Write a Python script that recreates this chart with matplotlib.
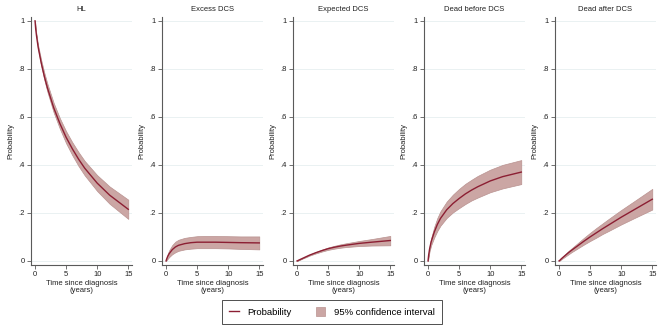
import matplotlib
matplotlib.use("Agg")
import matplotlib.pyplot as plt
from matplotlib.lines import Line2D
from matplotlib.patches import Patch
import numpy as np

plt.rcParams['font.family'] = ['Liberation Sans', 'DejaVu Sans']

# years since diagnosis
t = [0, 0.1, 0.25, 0.5, 1, 1.5, 2, 3, 4, 5, 6, 7, 8, 10, 12, 15]

titles = ["HL", "Excess DCS", "Expected DCS", "Dead before DCS", "Dead after DCS"]

hl_est = [1.0, 0.967, 0.935, 0.89, 0.824, 0.768, 0.72, 0.638, 0.572, 0.515, 0.467, 0.424, 0.386, 0.324, 0.274, 0.215]
hl_lo = [1.0, 0.965, 0.93, 0.882, 0.812, 0.753, 0.703, 0.618, 0.55, 0.49, 0.44, 0.395, 0.356, 0.291, 0.238, 0.175]
hl_hi = [1.0, 0.969, 0.94, 0.898, 0.836, 0.783, 0.737, 0.658, 0.594, 0.54, 0.494, 0.453, 0.416, 0.357, 0.31, 0.255]

exc_est = [0, 0.008, 0.018, 0.03, 0.047, 0.058, 0.065, 0.072, 0.076, 0.078, 0.078, 0.078, 0.078, 0.077, 0.076, 0.075]
exc_lo = [0, 0.003, 0.008, 0.016, 0.028, 0.036, 0.042, 0.048, 0.051, 0.053, 0.053, 0.053, 0.053, 0.052, 0.050, 0.048]
exc_hi = [0, 0.013, 0.028, 0.044, 0.066, 0.080, 0.088, 0.096, 0.100, 0.103, 0.104, 0.104, 0.104, 0.103, 0.102, 0.102]

exp_est = [0, 0.001, 0.003, 0.006, 0.012, 0.018, 0.024, 0.034, 0.043, 0.051, 0.057, 0.062, 0.066, 0.073, 0.078, 0.085]
exp_lo = [0, 0.001, 0.003, 0.005, 0.011, 0.016, 0.022, 0.031, 0.039, 0.046, 0.051, 0.055, 0.058, 0.062, 0.064, 0.065]
exp_hi = [0, 0.001, 0.003, 0.007, 0.013, 0.020, 0.026, 0.037, 0.047, 0.056, 0.063, 0.069, 0.074, 0.083, 0.091, 0.104]

db_est = [0, 0.025, 0.05, 0.08, 0.12, 0.152, 0.177, 0.213, 0.239, 0.26, 0.279, 0.295, 0.309, 0.333, 0.351, 0.37]
db_lo = [0, 0.02, 0.04, 0.065, 0.098, 0.125, 0.147, 0.179, 0.202, 0.22, 0.237, 0.252, 0.264, 0.286, 0.302, 0.32]
db_hi = [0, 0.03, 0.06, 0.095, 0.142, 0.179, 0.207, 0.247, 0.276, 0.30, 0.321, 0.338, 0.354, 0.38, 0.4, 0.42]

da_est = [0, 0.002, 0.006, 0.012, 0.023, 0.034, 0.044, 0.063, 0.082, 0.10, 0.117, 0.134, 0.15, 0.182, 0.212, 0.257]
da_lo = [0, 0.001, 0.004, 0.009, 0.018, 0.027, 0.036, 0.052, 0.068, 0.083, 0.097, 0.112, 0.125, 0.152, 0.177, 0.214]
da_hi = [0, 0.003, 0.008, 0.015, 0.028, 0.041, 0.052, 0.074, 0.096, 0.117, 0.137, 0.156, 0.175, 0.212, 0.247, 0.300]

est = [hl_est, exc_est, exp_est, db_est, da_est]
lo = [hl_lo, exc_lo, exp_lo, db_lo, da_lo]
hi = [hl_hi, exc_hi, exp_hi, db_hi, da_hi]

yticks = [0, 0.2, 0.4, 0.6, 0.8, 1]
ytick_labels = ["0", ".2", ".4", ".6", ".8", "1"]
xticks = [0, 5, 10, 15]

line_col = "#8c1f33"
band_col = "#cba6a4"
band_edge = "#b99290"
grid_col = "#eaf1f2"
axis_col = "#5a5a5a"

W, H = 664, 332
fig = plt.figure(figsize=(W / 100, H / 100), dpi=100)
fig.patch.set_facecolor("white")

lefts = [31, 162, 293, 424, 555]
for i in range(5):
    ax = fig.add_axes([lefts[i] / W, 67 / H, 101 / W, 248.5 / H])
    ax.fill_between(t, lo[i], hi[i], facecolor=band_col, edgecolor=band_edge, lw=0.5)
    ax.plot(t, est[i], color=line_col, lw=1.0, solid_joinstyle="round")
    ax.set_xlim(-0.65, 15.6)
    ax.set_ylim(-0.017, 1.018)
    ax.set_yticks(yticks)
    ax.set_yticklabels(ytick_labels)
    ax.set_xticks(xticks)
    ax.grid(axis="y", color=grid_col, lw=0.7)
    ax.set_axisbelow(True)
    for s in ["top", "right"]:
        ax.spines[s].set_visible(False)
    for s in ["left", "bottom"]:
        ax.spines[s].set_color(axis_col)
        ax.spines[s].set_linewidth(0.8)
    ax.tick_params(direction="out", length=3, width=0.6, color=axis_col,
                   labelsize=5.5, pad=1.5, labelcolor="#222222")
    ax.set_title(titles[i], fontsize=5.5, pad=4, color="#222222")
    ax.set_ylabel("Probability", fontsize=5.5, labelpad=3, color="#222222")
    ax.set_xlabel("Time since diagnosis\n(years)", fontsize=5.5, labelpad=1.5,
                  color="#222222", linespacing=0.95)

handles = [Line2D([0], [0], color=line_col, lw=1.0),
           Patch(facecolor=band_col, edgecolor=band_edge, lw=0.5)]
leg = fig.legend(handles, ["Probability", "95% confidence interval"],
                 loc="center", bbox_to_anchor=(332 / W, 20 / H), ncol=2,
                 prop={"size": 6.8}, frameon=True, fancybox=False, edgecolor="black",
                 handlelength=1.0, handleheight=1.1, columnspacing=2.6,
                 handletextpad=0.9, borderpad=0.72, borderaxespad=0)
leg.get_frame().set_linewidth(0.6)

fig.savefig("out.png", dpi=100, facecolor="white")
